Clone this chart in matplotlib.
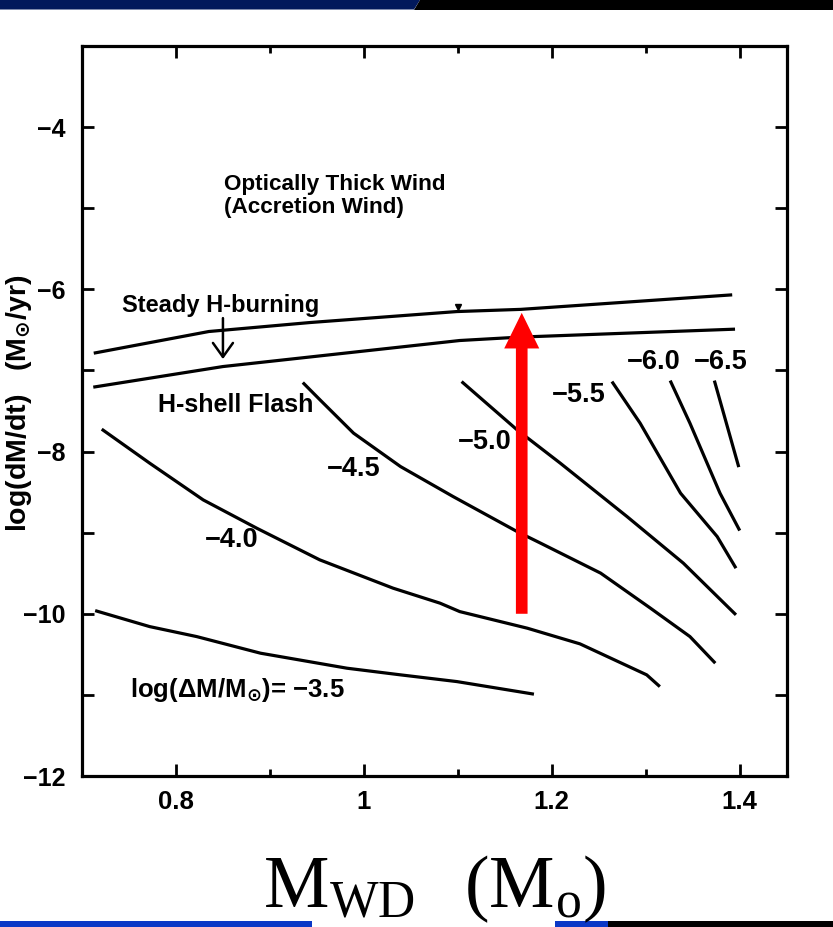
import matplotlib
matplotlib.use("Agg")
import matplotlib.pyplot as plt
from matplotlib.patches import Polygon, Rectangle

plt.rcParams['font.family'] = ['Liberation Sans', 'DejaVu Sans']
plt.rcParams['axes.unicode_minus'] = True
plt.rcParams['mathtext.default'] = 'bf'

# ---- data: log(dM/dt) vs white dwarf mass --------------------------------
# wind / steady-burning boundary
upper_x = [0.7125, 0.835, 0.943, 1.099, 1.167, 1.392]
upper_y = [-6.787, -6.52, -6.409, -6.274, -6.247, -6.068]
# steady-burning / shell-flash boundary
lower_x = [0.712, 0.850, 1.102, 1.166, 1.395]
lower_y = [-7.206, -6.952, -6.631, -6.589, -6.491]

# ignition-mass contours, log(dM/Msun)
contour_levels = ["−3.5", "−4.0", "−4.5", "−5.0", "−5.5", "−6.0", "−6.5"]
c35_x = [0.714, 0.772, 0.822, 0.890, 0.982, 1.039, 1.099, 1.181]
c35_y = [-9.961, -10.158, -10.281, -10.486, -10.671, -10.753, -10.836, -10.991]
c40_x = [0.721, 0.772, 0.829, 0.886, 0.953, 1.031, 1.081, 1.102, 1.174, 1.230, 1.301, 1.315]
c40_y = [-7.724, -8.143, -8.596, -8.945, -9.335, -9.684, -9.869, -9.973, -10.178, -10.371, -10.753, -10.898]
c45_x = [0.935, 0.953, 0.989, 1.039, 1.095, 1.163, 1.188, 1.252, 1.305, 1.347, 1.374]
c45_y = [-7.149, -7.359, -7.773, -8.185, -8.555, -8.986, -9.129, -9.499, -9.931, -10.281, -10.609]
c50_x = [1.104, 1.163, 1.209, 1.280, 1.340, 1.396]
c50_y = [-7.137, -7.732, -8.143, -8.801, -9.376, -10.013]
c55_x = [1.264, 1.294, 1.337, 1.376, 1.396]
c55_y = [-7.137, -7.650, -8.513, -9.048, -9.438]
c60_x = [1.326, 1.347, 1.379, 1.400]
c60_y = [-7.125, -7.650, -8.513, -8.974]
c65_x = [1.373, 1.399]
c65_y = [-7.125, -8.192]

# evolution arrow (accretion rate increase at fixed mass)
arrow_x = 1.168
arrow_y0 = -10.0
arrow_y1 = -6.29

xticks = [0.8, 1.0, 1.2, 1.4]
xtick_labels = ["0.8", "1", "1.2", "1.4"]
xminor = [0.9, 1.1, 1.3]
yticks = [-12, -11, -10, -9, -8, -7, -6, -5, -4]
ytick_labels = ["−12", "", "−10", "", "−8", "", "−6", "", "−4"]

# ---- figure ---------------------------------------------------------------
W, H = 833, 927
fig = plt.figure(figsize=(W / 100, H / 100), dpi=100)

# slide banner at the top and bars at the bottom
fig.patches.append(Polygon([(0, 1), (420 / W, 1), (414 / W, 1 - 9.5 / H), (0, 1 - 9.5 / H)],
                           closed=True, transform=fig.transFigure, facecolor='#02195c',
                           edgecolor='none', zorder=0))
fig.patches.append(Polygon([(420 / W, 1), (1, 1), (1, 1 - 9.5 / H), (414 / W, 1 - 9.5 / H)],
                           closed=True, transform=fig.transFigure, facecolor='black',
                           edgecolor='none', zorder=0))
fig.patches.append(Rectangle((0, 0), 312 / W, 6 / H, transform=fig.transFigure,
                             facecolor='#0a38c6', edgecolor='none', zorder=0))
fig.patches.append(Rectangle((555 / W, 0), 53 / W, 6 / H, transform=fig.transFigure,
                             facecolor='#0a38c6', edgecolor='none', zorder=0))
fig.patches.append(Rectangle((608 / W, 0), 1 - 608 / W, 6 / H, transform=fig.transFigure,
                             facecolor='black', edgecolor='none', zorder=0))

ax = fig.add_axes([82 / W, 1 - 776 / H, (786.7 - 82) / W, (776 - 46) / H])
ax.set_xlim(0.7, 1.45)
ax.set_ylim(-12, -3)

lw = 2.3
ax.plot(upper_x, upper_y, color='black', lw=lw, solid_capstyle='butt')
ax.plot(lower_x, lower_y, color='black', lw=lw, solid_capstyle='butt')
for cx, cy in [(c35_x, c35_y), (c40_x, c40_y), (c45_x, c45_y), (c50_x, c50_y),
               (c55_x, c55_y), (c60_x, c60_y), (c65_x, c65_y)]:
    ax.plot(cx, cy, color='black', lw=lw, solid_capstyle='butt')

# tiny marker on the wind boundary
ax.plot([1.10], [-6.215], marker='v', color='black', markersize=4, linestyle='none')

# red arrow
ax.arrow(arrow_x, arrow_y0, 0, arrow_y1 - arrow_y0, width=0.0124, head_width=0.0373,
         head_length=0.439, length_includes_head=True, color='#ff0000', lw=0, zorder=5)

# region labels
fs = 16.2
tw = 'bold'
ax.text(0.851, -4.773, "Optically Thick Wind", fontsize=fs, fontweight=tw,
        va='baseline', ha='left')
ax.text(0.851, -5.06, "(Accretion Wind)", fontsize=fs, fontweight=tw,
        va='baseline', ha='left')
ax.text(0.7425, -6.274, "Steady H-burning", fontsize=17, fontweight=tw,
        va='baseline', ha='left')
ax.text(0.7811, -7.507, "H-shell Flash", fontsize=18, fontweight=tw,
        va='baseline', ha='left')
ax.annotate('', xy=(0.85, -6.86), xytext=(0.85, -6.355),
            arrowprops=dict(arrowstyle='->,head_length=0.28,head_width=0.2',
                            lw=1.8, color='black', mutation_scale=36,
                            shrinkA=0, shrinkB=0))

# contour labels
cfs = 19.5
ax.text(0.751, -11.021, "log(ΔM/M$_{\\odot}$)= " + contour_levels[0], fontsize=18.5,
        fontweight=tw, va='baseline', ha='left')
label_pos = [(0.8596, -9.09), (0.9896, -8.213), (1.129, -7.88),
             (1.229, -7.30), (1.309, -6.894), (1.380, -6.894)]
for lev, (lx, ly) in zip(contour_levels[1:], label_pos):
    ax.text(lx, ly, lev, fontsize=cfs, fontweight=tw, ha='center', va='center')

# axes styling
for s in ax.spines.values():
    s.set_linewidth(2.3)
ax.set_xticks(xticks)
ax.set_xticklabels(xtick_labels)
ax.set_xticks(xminor, minor=True)
ax.set_yticks(yticks)
ax.set_yticklabels(ytick_labels)
ax.tick_params(axis='both', which='major', direction='in', length=8.6, width=2.0,
               top=True, right=True)
ax.tick_params(axis='x', which='minor', direction='in', length=5, width=2.0, top=True)
ax.tick_params(axis='x', which='major', labelsize=18.5, pad=10)
ax.tick_params(axis='y', which='major', labelsize=18, pad=12)
for t in ax.get_yticklabels() + ax.get_xticklabels():
    t.set_fontweight('bold')

ax.set_ylabel("log(dM/dt)   (M$_{\\odot}$/yr)", fontsize=20.5, fontweight='bold')
ax.yaxis.set_label_coords(-0.068, 0.511)

fig.text(0.5215, 1 - 907 / H, r"$\mathregular{M_{WD}\ \ (M_o)}$", fontsize=53,
         family='Liberation Serif', ha='center', va='baseline')

fig.savefig("out.png", dpi=100)
